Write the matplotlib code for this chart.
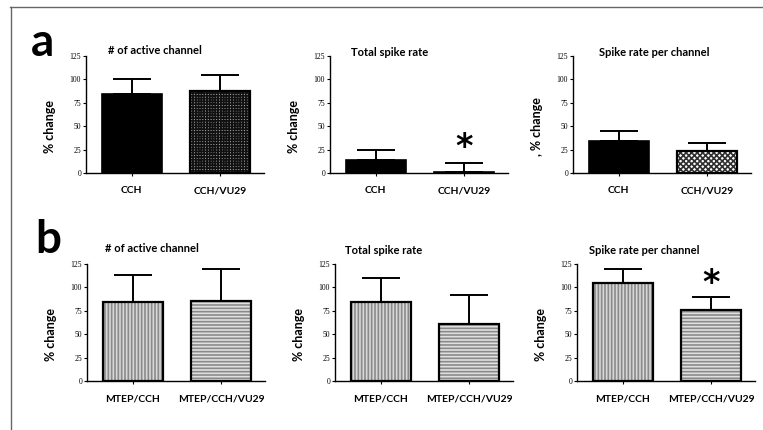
import matplotlib
matplotlib.use("Agg")
import matplotlib.pyplot as plt
from matplotlib.lines import Line2D
import numpy as np

plt.rcParams["font.family"] = ["Lato", "DejaVu Sans"]
plt.rcParams["hatch.linewidth"] = 1.2

titles = ["# of active channel", "Total spike rate", "Spike rate per channel"]
cats_a = ["CCH", "CCH/VU29"]
cats_b = ["MTEP/CCH", "MTEP/CCH/VU29"]

means_a = [[84, 88], [14, 1], [34, 23]]
errs_a = [[16, 17], [11, 10], [11, 9]]
means_b = [[84, 86], [84, 61], [105, 76]]
errs_b = [[29, 34], [26, 31], [15, 14]]

ylabels_a = ["% change", "% change", ", % change"]
ylabels_b = ["% change", "% change", "% change"]
yticks = [0, 25, 50, 75, 100, 125]

# significance marks: (row, panel, bar index, y position)
stars = [("a", 1, 1, 27), ("b", 2, 1, 104)]

W, H = 763, 430
fig = plt.figure(figsize=(W / 100, H / 100), dpi=100)

# axes layout in pixels: left, top, bottom
lefts_a = [86, 330, 573]
lefts_b = [87, 335, 577]
ax_w = 178
title_pos_a = [(155, 50), (390, 52), (654, 52)]
title_pos_b = [(152, 249), (384, 250), (644, 250)]


def px_axes(left, top, bottom):
    return fig.add_axes([left / W, 1 - bottom / H, ax_w / W, (bottom - top) / H])


def draw_panel(ax, cats, means, errs, styles, ylabel):
    x = np.arange(len(cats))
    for i, st in enumerate(styles):
        if st == "black":
            ax.bar(x[i], means[i], 0.68, color="black", edgecolor="black", lw=1.2, zorder=2)
        else:
            face, hatch, hcol = st
            ax.bar(x[i], means[i], 0.68, color=face, edgecolor=hcol, hatch=hatch, lw=0, zorder=2)
            ax.bar(x[i], means[i], 0.68, fill=False, edgecolor="black", lw=1.6, zorder=3)
    ax.errorbar(x, means, yerr=[np.zeros(len(errs)), errs], fmt="none", ecolor="black",
                elinewidth=1.4, capsize=14, capthick=1.4, zorder=1)
    ax.set_xlim(-0.52, 1.5)
    ax.set_ylim(0, 125)
    ax.set_yticks(yticks)
    ax.set_yticklabels([str(t) for t in yticks], fontfamily="Liberation Serif", fontsize=5.5)
    ax.set_xticks(x)
    ax.set_xticklabels(cats, fontsize=7.5, fontweight="bold")
    ax.tick_params(axis="y", length=2.5, width=0.8, pad=1)
    ax.tick_params(axis="x", length=2.5, width=0.8, pad=7)
    for s in ["top", "right"]:
        ax.spines[s].set_visible(False)
    for s in ["left", "bottom"]:
        ax.spines[s].set_linewidth(1.0)
    ax.set_ylabel(ylabel, fontsize=9, fontweight="bold")
    ax.yaxis.set_label_coords(-0.17, 0.4)
    ax.patch.set_alpha(0)


styles_a = [
    ["black", ("#a0a0a0", "++++++", "#111111")],
    ["black", "black"],
    ["black", ("white", "xxxxxx", "#303030")],
]
styles_b = [("#d8d8d8", "|||||", "#8a8a8a"), ("#e0e0e0", "-----", "#8a8a8a")]

axes = {}
for k in range(3):
    ax = px_axes(lefts_a[k], 56, 173)
    draw_panel(ax, cats_a, means_a[k], errs_a[k], styles_a[k], ylabels_a[k])
    tx, ty = title_pos_a[k]
    fig.text(tx / W, 1 - ty / H, titles[k], ha="center", va="center", fontsize=8, fontweight="bold")
    axes[("a", k)] = ax

    ax = px_axes(lefts_b[k], 264, 381)
    draw_panel(ax, cats_b, means_b[k], errs_b[k], styles_b, ylabels_b[k])
    tx, ty = title_pos_b[k]
    fig.text(tx / W, 1 - ty / H, titles[k], ha="center", va="center", fontsize=8, fontweight="bold")
    axes[("b", k)] = ax

for row, k, i, yv in stars:
    axes[(row, k)].text(i, yv, "*", ha="center", va="center", fontsize=24,
                        fontweight="bold", fontfamily="DejaVu Sans", zorder=5)

# panel letters
fig.text(43 / W, 1 - 43 / H, "a", ha="center", va="center", fontsize=33, fontweight="bold")
fig.text(48 / W, 1 - 240 / H, "b", ha="center", va="center", fontsize=33, fontweight="bold")

# frame lines (top and left)
fig.add_artist(Line2D([10 / W, 762 / W], [1 - 7 / H, 1 - 7 / H], color="#666666", lw=1.0))
fig.add_artist(Line2D([10.5 / W, 10.5 / W], [1 - 7 / H, 0], color="#666666", lw=1.0))

fig.savefig("out.png", dpi=100, facecolor="white")
